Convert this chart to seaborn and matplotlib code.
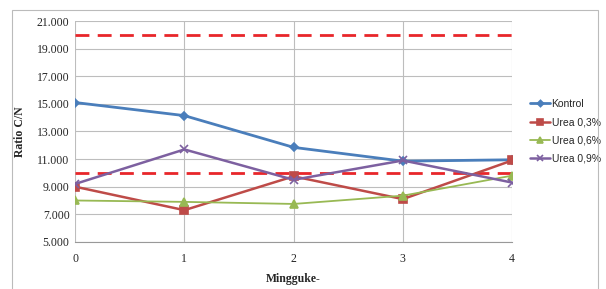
import pandas as pd
import matplotlib.pyplot as plt
import seaborn as sns
from matplotlib.patches import Rectangle

# Data
minggu = [0, 1, 2, 3, 4]
kontrol = [15.1, 14.15, 11.85, 10.85, 10.95]
urea_03 = [9.0, 7.3, 9.75, 8.1, 10.9]
urea_06 = [8.0, 7.9, 7.75, 8.35, 9.8]
urea_09 = [9.2, 11.7, 9.5, 10.9, 9.3]
batas = [20, 10]
series_names = ["Kontrol", "Urea 0,3%", "Urea 0,6%", "Urea 0,9%"]
y_ticks = [5, 7, 9, 11, 13, 15, 17, 19, 21]

rows = []
for name, vals in zip(series_names, [kontrol, urea_03, urea_06, urea_09]):
    for m, v in zip(minggu, vals):
        rows.append({"Minggu": m, "Ratio": v, "Perlakuan": name})
df = pd.DataFrame(rows)

sns.set_style("white")
plt.rcParams["font.family"] = ["Liberation Serif", "DejaVu Serif"]

fig = plt.figure(figsize=(6.06, 2.89), dpi=100)
ax = fig.add_axes([0.124, 0.163, 0.721, 0.764])

palette = {"Kontrol": "#4a7ebb", "Urea 0,3%": "#be4b48",
           "Urea 0,6%": "#98b954", "Urea 0,9%": "#7d60a0"}
markers = {"Kontrol": "D", "Urea 0,3%": "s", "Urea 0,6%": "^", "Urea 0,9%": "x"}
widths = {"Kontrol": 2.0, "Urea 0,3%": 1.8, "Urea 0,6%": 1.3, "Urea 0,9%": 1.8}
sizes = {"Kontrol": 4, "Urea 0,3%": 6, "Urea 0,6%": 6, "Urea 0,9%": 6}

for name in series_names:
    sub = df[df["Perlakuan"] == name]
    sns.lineplot(data=sub, x="Minggu", y="Ratio", ax=ax, color=palette[name],
                 marker=markers[name], markersize=sizes[name],
                 markeredgecolor=palette[name], markeredgewidth=1.2,
                 linewidth=widths[name], label=name)

for b in batas:
    ax.axhline(b, color="#e8262a", linestyle=(0, (5, 3)), linewidth=2, zorder=1)

ax.set_xlim(0, 4)
ax.set_ylim(5, 21)
ax.set_xticks(minggu)
ax.set_yticks(y_ticks)
ax.set_yticklabels([f"{t}.000" for t in y_ticks], fontsize=8.5)
ax.set_xticklabels([str(m) for m in minggu], fontsize=8.5)
ax.grid(True, color="#bdbdbd", linewidth=0.8)
for s in ["top", "right", "left"]:
    ax.spines[s].set_visible(False)
ax.spines["bottom"].set_color("#999999")
ax.tick_params(axis="x", pad=8, length=0)
ax.tick_params(axis="y", pad=4, length=0)

ax.set_xlabel("Mingguke-", fontsize=8.5, fontweight="bold", labelpad=6)
ax.set_ylabel("Ratio C/N", fontsize=8.5, fontweight="bold", labelpad=8)

leg = ax.legend(loc="center left", bbox_to_anchor=(1.02, 0.5), frameon=False,
                prop={"family": "Liberation Sans", "size": 7.5},
                handlelength=1.9, handletextpad=0.15, labelspacing=0.8,
                markerscale=0.8)

fig.patches.append(Rectangle((12 / 606, -0.05), (598 - 12) / 606, 1 - 10 / 289 + 0.05,
                             transform=fig.transFigure, fill=False,
                             edgecolor="#bbbbbb", linewidth=0.8))

fig.savefig("out.png", dpi=100)
